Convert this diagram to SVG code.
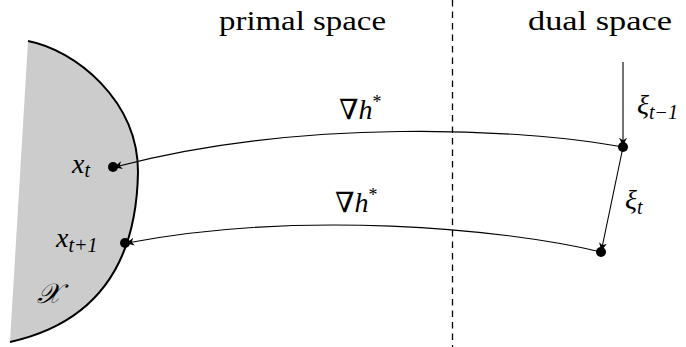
<svg xmlns="http://www.w3.org/2000/svg" width="686" height="347" viewBox="0 0 686 347">
<style>
.txt{font-family:"Liberation Serif","Times New Roman","DejaVu Serif",serif}
.lbl{font-size:28px}
.it{font-style:italic}
.sub{font-size:20px;font-style:italic}
.sub2{font-size:20px}
.edge{fill:none;stroke:#000;stroke-width:1.1}
.dot{fill:#000}
</style>
<defs>
<marker id="ah" viewBox="0 0 10 10" refX="9" refY="5" markerWidth="8" markerHeight="8" markerUnits="userSpaceOnUse" orient="auto">
<path d="M0,0 L10,5 L0,10 L3,5 Z" fill="#000"/>
</marker>
</defs>
<rect width="686" height="347" fill="#fff"/>
<g id="set-X">
<path d="M28 41 C75 50 138 100 138 172 C137 235 118 318 10 342 Z" fill="#cccccc" stroke="none"/>
<path d="M28 41 C75 50 138 100 138 172 C137 235 118 318 10 342" fill="none" stroke="#000" stroke-width="2"/>
<text class="txt lbl it" x="37" y="303">𝒳</text>
</g>
<g id="divider">
<line x1="452.5" y1="0" x2="452.5" y2="347" stroke="#000" stroke-width="1.3" stroke-dasharray="6.5 5"/>
<text class="txt lbl" x="219" y="30" textLength="167" lengthAdjust="spacingAndGlyphs">primal space</text>
<text class="txt lbl" x="528" y="30" textLength="144" lengthAdjust="spacingAndGlyphs">dual space</text>
</g>
<g id="connectors">
<path class="edge" d="M623 62 L623 145" marker-end="url(#ah)"/>
<path class="edge" d="M623 147 C520 128 300 118 115 167" marker-end="url(#ah)"/>
<path class="edge" d="M623 147 L601.5 250" marker-end="url(#ah)"/>
<path class="edge" d="M601 252 C500 228 300 210 127 243" marker-end="url(#ah)"/>
<text class="txt lbl" x="339" y="119">∇<tspan class="it">h</tspan><tspan font-size="18" dy="-11">*</tspan></text>
<text class="txt lbl" x="335" y="212">∇<tspan class="it">h</tspan><tspan font-size="18" dy="-11">*</tspan></text>
</g>
<g id="xi-prev">
<circle class="dot" cx="623" cy="147" r="5"/>
<text class="txt lbl it" x="637" y="114">ξ<tspan class="sub" dy="5">t</tspan><tspan class="sub2">−1</tspan></text>
</g>
<g id="xi-t">
<circle class="dot" cx="601" cy="252" r="5"/>
<text class="txt lbl it" x="625" y="209">ξ<tspan class="sub" dy="5">t</tspan></text>
</g>
<g id="x-t">
<circle class="dot" cx="113" cy="167" r="5"/>
<text class="txt lbl it" x="72" y="173">x<tspan class="sub" dy="4">t</tspan></text>
</g>
<g id="x-t1">
<circle class="dot" cx="125" cy="243" r="5"/>
<text class="txt lbl it" x="56" y="247">x<tspan class="sub" dy="5">t</tspan><tspan class="sub2">+1</tspan></text>
</g>
</svg>
